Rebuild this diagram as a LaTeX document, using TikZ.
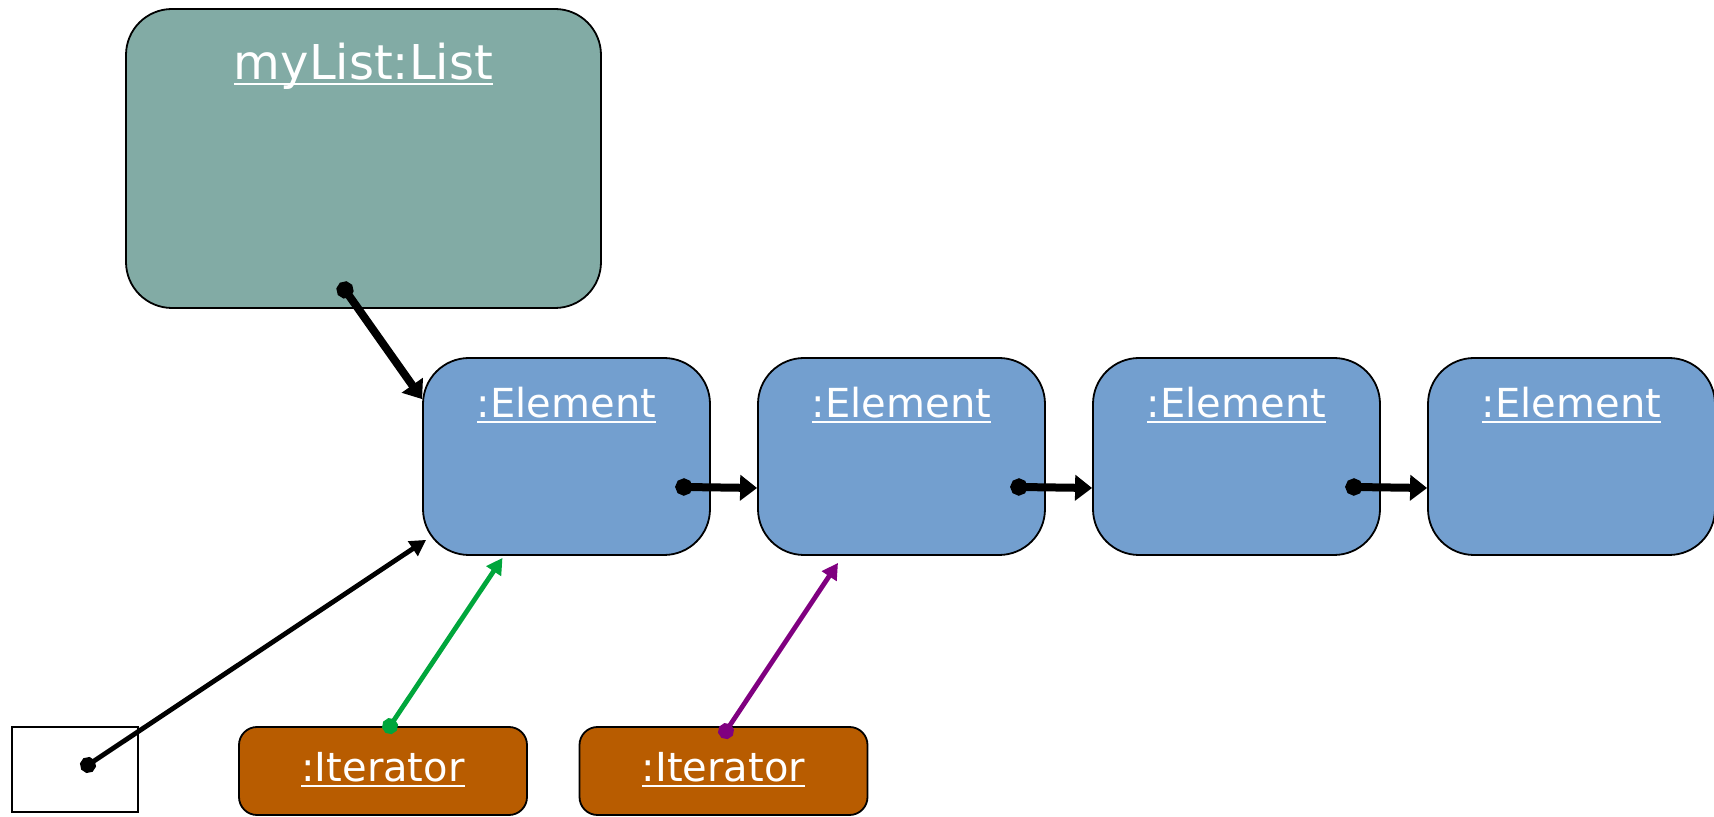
\documentclass[tikz,border=0pt]{standalone}
\usepackage{fontspec}
\setmainfont{DejaVu Sans}
\usepackage{tikz}
\usetikzlibrary{calc}
\usetikzlibrary{arrows.meta, positioning}

\definecolor{listfill}{RGB}{130,171,165}
\definecolor{elemfill}{RGB}{115,159,207}
\definecolor{iterfill}{RGB}{184,92,0}
\definecolor{itergreen}{RGB}{0,166,60}
\definecolor{iterpurple}{RGB}{128,0,128}

\newcommand{\objname}[1]{\setbox0\hbox{#1}\rlap{\rule[-2.5pt]{\wd0}{0.8pt}}\box0}

\begin{document}
\begin{tikzpicture}[x=1pt,y=1pt,node distance=167.5pt,
    obj/.style={draw=black, line width=0.9pt, rounded corners=23pt, inner sep=0pt, text=white},
    list/.style={obj, fill=listfill, minimum width=237.5pt, text height=35.5pt, text depth=114pt, font=\fontsize{24}{28}\selectfont},
    elem/.style={obj, fill=elemfill, minimum width=143.5pt, text height=30pt, text depth=68.5pt, font=\fontsize{20}{24}\selectfont},
    iter/.style={obj, fill=iterfill, rounded corners=9pt, minimum width=144pt, text height=27.5pt, text depth=16.5pt, font=\fontsize{20}{24}\selectfont},
    ref/.style={draw=black, line width=0.8pt, minimum width=63pt, minimum height=42.5pt, inner sep=0pt},
    link/.style={line width=4pt, shorten <=-4.25pt, {Circle[length=8.5pt]}-{Triangle[length=8.5pt,width=12.5pt]}},
    thin/.style={line width=2.4pt, shorten <=-4pt, {Circle[length=8pt]}-{Triangle[length=8pt,width=8.5pt]}}]
  \useasboundingbox (0,0) rectangle (857,-408.5);

  \node[list] (myList) at (181.75,-79.25) {\objname{myList:List}};
  \node[elem] (el1) at (283.25,-228.25)   {\objname{:Element}};
  \node[elem] (el2) [right of=el1]        {\objname{:Element}};
  \node[elem] (el3) [right of=el2]        {\objname{:Element}};
  \node[elem] (el4) [right of=el3]        {\objname{:Element}};
  \node[ref]  (ref) at (37.5,-384.75)     {};
  \node[iter] (it1) at (191.5,-385.5)     {\objname{:Iterator}};
  \node[iter] (it2) [right of=it1, node distance=170.25pt] {\objname{:Iterator}};

  \coordinate (head)   at ($(myList.south)+(-9.25,9.5)$);
  \coordinate (headin) at ($(el1.north west)+(0,-21)$);
  \foreach \a/\b in {el1/el2, el2/el3, el3/el4} {
    \coordinate (next-\a) at ($(\a.east)+(-13.5,-15.25)$);
    \coordinate (in-\b)   at ($(\b.west)+(0,-15.75)$);
  }
  \coordinate (refdot) at ($(ref.center)+(6.5,2.25)$);
  \coordinate (refin)  at ($(el1.south west)+(2,8)$);
  \coordinate (it1dot) at ($(it1.north)+(3.5,0)$);
  \coordinate (it1in)  at ($(el1.south)+(-32,-1)$);
  \coordinate (it2dot) at ($(it2.north)+(1.25,-2.5)$);
  \coordinate (it2in)  at ($(el2.south)+(-31.75,-3.5)$);

  \path (head)     edge [link] (headin)
        (next-el1) edge [link] (in-el2)
        (next-el2) edge [link] (in-el3)
        (next-el3) edge [link] (in-el4);

  \path (refdot) edge [thin]             (refin)
        (it1dot) edge [thin, itergreen]  (it1in)
        (it2dot) edge [thin, iterpurple] (it2in);
\end{tikzpicture}
\end{document}
